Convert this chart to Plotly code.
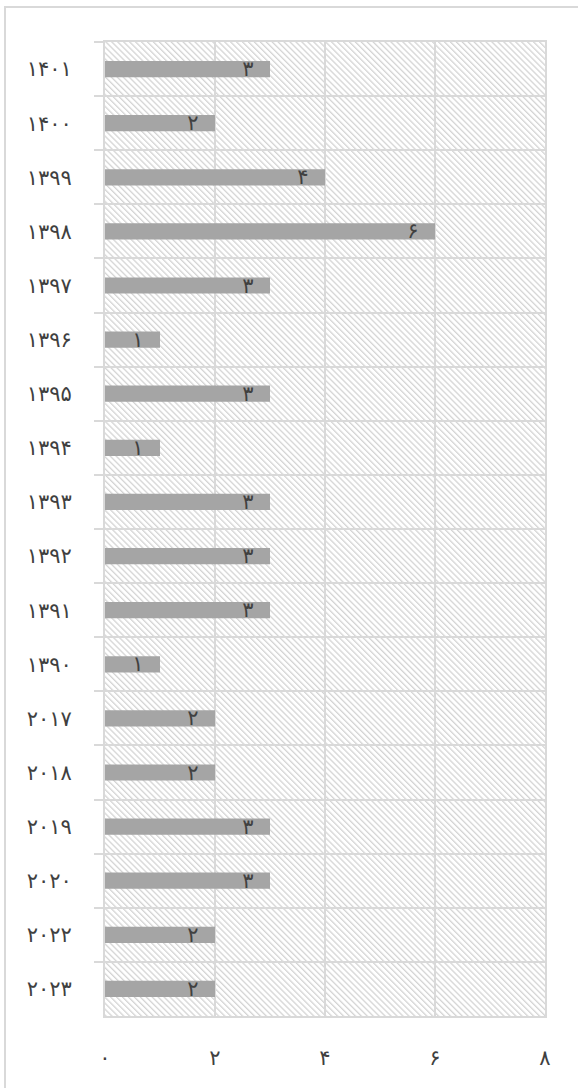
import base64
import plotly.graph_objects as go

# Data (top to bottom as shown)
categories = ["۱۴۰۱", "۱۴۰۰", "۱۳۹۹", "۱۳۹۸", "۱۳۹۷", "۱۳۹۶", "۱۳۹۵", "۱۳۹۴", "۱۳۹۳",
              "۱۳۹۲", "۱۳۹۱", "۱۳۹۰", "۲۰۱۷", "۲۰۱۸", "۲۰۱۹", "۲۰۲۰", "۲۰۲۲", "۲۰۲۳"]
values = [3, 2, 4, 6, 3, 1, 3, 1, 3, 3, 3, 1, 2, 2, 3, 3, 2, 2]
value_labels = ["۳", "۲", "۴", "۶", "۳", "۱", "۳", "۱", "۳", "۳", "۳", "۱", "۲", "۲", "۳", "۳", "۲", "۲"]
x_tickvals = [0, 2, 4, 6, 8]
x_ticktext = ["۰", "۲", "۴", "۶", "۸"]

W, H = 578, 1088
ML, MR, MT, MB = 105, 33, 42, 72
PW, PH = W - ML - MR, H - MT - MB

GRID = "#d9d9d9"
FONT = "DejaVu Sans"
TXT = "#404040"

# hatched background for plot area
svg = f'''<svg xmlns="http://www.w3.org/2000/svg" width="{PW}" height="{PH}" viewBox="0 0 {PW} {PH}" preserveAspectRatio="none">
<defs><pattern id="p" patternUnits="userSpaceOnUse" width="4.2" height="4.2" patternTransform="rotate(-45)">
<rect x="0" y="0" width="1.3" height="4.2" fill="#d4d4d4"/></pattern></defs>
<rect width="100%" height="100%" fill="#ffffff"/>
<rect width="100%" height="100%" fill="url(#p)"/></svg>'''
img_src = "data:image/svg+xml;base64," + base64.b64encode(svg.encode()).decode()

fig = go.Figure()
fig.add_trace(go.Bar(
    y=categories, x=values, orientation="h",
    width=0.3,
    marker=dict(color="#a5a5a5", line=dict(width=0)),
    text=[t + "\u00a0\u00a0" for t in value_labels],
    textposition="inside", insidetextanchor="end",
    constraintext="none",
    textfont=dict(family=FONT, size=21, color=TXT),
    hoverinfo="skip",
))

fig.update_layout(
    width=W, height=H,
    margin=dict(l=ML, r=MR, t=MT, b=MB),
    paper_bgcolor="white", plot_bgcolor="rgba(0,0,0,0)",
    showlegend=False,
    images=[dict(source=img_src, xref="paper", yref="paper", x=0, y=1,
                 sizex=1, sizey=1, xanchor="left", yanchor="top",
                 sizing="stretch", layer="below")],
    shapes=[dict(type="rect", xref="paper", yref="paper",
                 x0=(5 - ML) / PW, x1=(600 - ML) / PW,
                 y0=-(1110 - (H - MB)) / PH, y1=1 + (MT - 7) / PH,
                 line=dict(color=GRID, width=2), layer="below")],
)

fig.update_xaxes(
    range=[0, 8], tickvals=x_tickvals, ticktext=x_ticktext,
    showgrid=True, gridcolor=GRID, gridwidth=2,
    showline=True, linecolor=GRID, linewidth=2, mirror=True,
    zeroline=False, ticks="", ticklabelstandoff=22,
    tickfont=dict(family=FONT, size=21, color=TXT),
    fixedrange=True,
)
fig.update_yaxes(
    type="category", autorange="reversed",
    tickson="boundaries", ticks="outside", ticklen=9, tickcolor=GRID, tickwidth=2,
    showgrid=True, gridcolor=GRID, gridwidth=2,
    showline=True, linecolor=GRID, linewidth=2, mirror=True,
    ticklabelstandoff=27,
    tickfont=dict(family=FONT, size=21, color=TXT),
    fixedrange=True,
)

fig.write_html("out.html", config={"displayModeBar": False},
               post_script="document.body.style.margin='0';document.body.style.overflow='hidden';")
